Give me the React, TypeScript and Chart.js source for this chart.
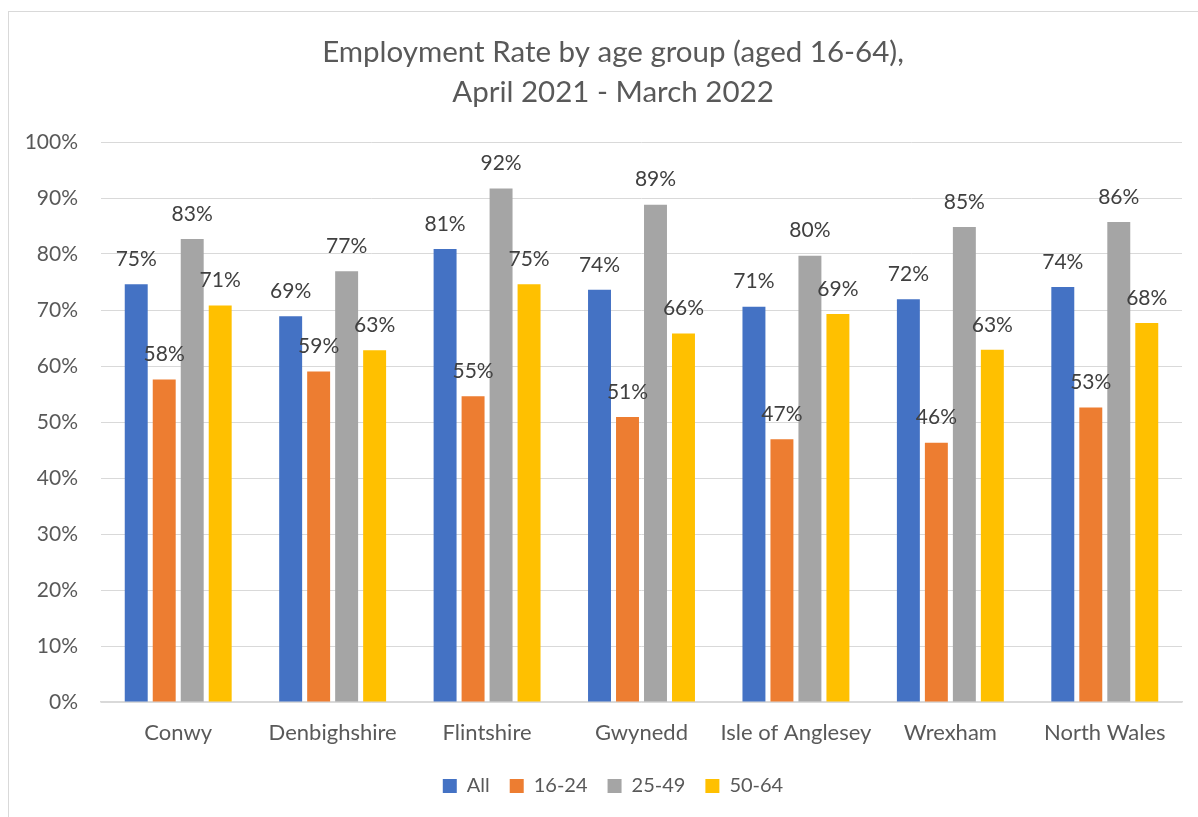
import React, { useEffect, useRef } from "react";
import { Chart, registerables } from "chart.js";

Chart.register(...registerables);

const categories = ["Conwy", "Denbighshire", "Flintshire", "Gwynedd", "Isle of Anglesey", "Wrexham", "North Wales"];
const seriesNames = ["All", "16-24", "25-49", "50-64"];
const allAges = [74.6, 68.9, 80.9, 73.6, 70.6, 71.9, 74.1];
const age16to24 = [57.6, 59.0, 54.6, 50.9, 46.9, 46.3, 52.6];
const age25to49 = [82.7, 76.9, 91.7, 88.8, 79.7, 84.8, 85.7];
const age50to64 = [70.8, 62.8, 74.6, 65.8, 69.3, 62.9, 67.7];
const seriesColors = ["#4472C4", "#ED7D31", "#A5A5A5", "#FFC000"];
const titleLines = ["Employment Rate by age group (aged 16-64),", "April 2021 - March 2022"];

const FONT = "Lato, 'Open Sans', sans-serif";

const valueLabelPlugin = {
  id: "valueLabels",
  afterDatasetsDraw(chart: any) {
    const ctx = chart.ctx;
    ctx.save();
    ctx.font = `21px ${FONT}`;
    ctx.fillStyle = "#404040";
    ctx.textAlign = "center";
    ctx.textBaseline = "middle";
    chart.data.datasets.forEach((ds: any, i: number) => {
      const meta = chart.getDatasetMeta(i);
      meta.data.forEach((bar: any, j: number) => {
        const v = ds.data[j] as number;
        ctx.fillText(`${Math.round(v)}%`, bar.x, bar.y - 25);
      });
    });
    ctx.restore();
  },
};

// Centre the title and legend on the (wider) chart frame, as in the original
const centreShiftPlugin = {
  id: "centreShift",
  afterLayout(chart: any) {
    const d = 12;
    [chart.titleBlock, chart.legend].forEach((b: any) => {
      if (b) {
        b.left += d;
        b.right += d;
      }
    });
  },
};

export default function App() {
  const canvasRef = useRef<HTMLCanvasElement | null>(null);

  useEffect(() => {
    if (!canvasRef.current) return;
    const seriesData = [allAges, age16to24, age25to49, age50to64];
    const chart = new Chart(canvasRef.current, {
      type: "bar",
      data: {
        labels: categories,
        datasets: seriesNames.map((name, i) => ({
          label: name,
          data: seriesData[i],
          backgroundColor: seriesColors[i],
          borderWidth: 0,
          barPercentage: 0.82,
          categoryPercentage: 0.725,
        })),
      },
      options: {
        responsive: false,
        animation: false,
        layout: { padding: { left: 20, right: 16, top: 0, bottom: 11 } },
        plugins: {
          tooltip: { enabled: false },
          title: {
            display: true,
            text: titleLines,
            color: "#595959",
            font: { family: FONT, size: 29.5, weight: "normal", lineHeight: 40 / 29.5 },
            padding: { top: 32, bottom: 30 },
          },
          legend: {
            display: true,
            position: "bottom",
            labels: {
              boxWidth: 14,
              boxHeight: 14,
              padding: 20,
              color: "#595959",
              font: { family: FONT, size: 20 },
            },
          },
        },
        scales: {
          x: {
            grid: { display: false, drawTicks: false },
            border: { display: true, color: "#d9d9d9", width: 1.5 },
            ticks: {
              color: "#595959",
              font: { family: FONT, size: 22 },
              padding: 18,
              maxRotation: 0,
              autoSkip: false,
            },
            afterFit: (s: any) => {
              s.height = 54;
            },
          },
          y: {
            min: 0,
            max: 100,
            grid: { color: "#d9d9d9", lineWidth: 1, drawTicks: false },
            border: { display: false },
            ticks: {
              stepSize: 10,
              color: "#595959",
              font: { family: FONT, size: 21 },
              padding: 23,
              callback: (v: any) => `${v}%`,
            },
            afterFit: (s: any) => {
              s.width = 81;
            },
          },
        },
      },
      plugins: [valueLabelPlugin, centreShiftPlugin],
    });
    return () => chart.destroy();
  }, []);

  return (
    <div
      style={{
        position: "fixed",
        left: 0,
        top: 0,
        width: 1198,
        height: 817,
        overflow: "hidden",
        background: "#ffffff",
      }}
    >
      <div
        style={{
          position: "absolute",
          left: 8,
          top: 11,
          width: 1240,
          height: 900,
          border: "1.5px solid #d9d9d9",
        }}
      />
      <canvas ref={canvasRef} width={1198} height={817} style={{ position: "absolute", left: 0, top: 0 }} />
    </div>
  );
}
